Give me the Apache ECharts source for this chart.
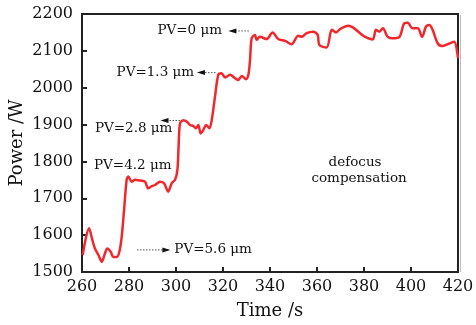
<!DOCTYPE html>
<html>
<head>
<meta charset="utf-8">
<script src="https://cdn.jsdelivr.net/npm/echarts@6/dist/echarts.min.js"></script>
<style>html,body{margin:0;padding:0;background:#fff;}#c{width:476px;height:325px;}</style>
</head>
<body>
<div id="c"></div>
<script>
// Data
var times = [260.3, 263, 264.4, 265.5, 267, 268.4, 269.8, 270.8, 272.2, 273.3, 274.8, 275.9, 276.9, 277.9, 279, 279.7, 281.1, 282.6, 284.7, 286.8, 288.2, 289.7, 291.1, 293.2, 294.9, 296.7, 298.2, 299.6, 300.6, 301.1, 301.7, 303.1, 304.6, 306, 307.4, 308.5, 309.5, 310.5, 311.6, 312.8, 314.2, 315.2, 316.6, 318, 319.4, 320.9, 323, 325.1, 326.5, 328, 329.8, 330.8, 331.5, 332.2, 333.6, 334.3, 335.7, 338.6, 341.1, 343.5, 346.4, 349.2, 352, 353.5, 355.6, 358.4, 360.3, 361, 364.1, 366.3, 368.1, 369.8, 373.3, 375.4, 378.3, 380.5, 383.7, 385.1, 386.5, 388, 390.1, 392.2, 395, 397.2, 398.6, 400.7, 402.9, 404.7, 406.4, 407.8, 409.2, 411.4, 413.5, 416.3, 418.4, 420];
var power = [1546, 1619, 1587, 1564, 1546, 1528, 1551, 1564, 1555, 1541, 1541, 1555, 1596, 1668, 1750, 1759, 1745, 1750, 1748, 1745, 1727, 1733, 1736, 1745, 1741, 1718, 1741, 1750, 1777, 1840, 1903, 1912, 1908, 1899, 1896, 1890, 1899, 1876, 1885, 1899, 1890, 1912, 1976, 2035, 2039, 2028, 2035, 2026, 2021, 2032, 2023, 2035, 2075, 2134, 2143, 2130, 2138, 2132, 2150, 2132, 2127, 2118, 2141, 2138, 2148, 2152, 2143, 2116, 2109, 2157, 2150, 2159, 2168, 2163, 2148, 2138, 2131, 2157, 2152, 2161, 2138, 2134, 2137, 2175, 2176, 2161, 2161, 2138, 2166, 2170, 2157, 2120, 2113, 2120, 2125, 2080];
var xTicks = {min: 260, max: 420, step: 20};
var yTicks = {min: 1500, max: 2200, step: 100};
var xTitle = 'Time /s';
var yTitle = 'Power /W';
// annotations in data coordinates
var labels = [
  {text: 'PV=0 μm', at: [319.6, 2154], align: 'right'},
  {text: 'PV=1.3 μm', at: [307.7, 2041], align: 'right'},
  {text: 'PV=2.8 μm', at: [265.5, 1888], align: 'left'},
  {text: 'PV=4.2 μm', at: [265.1, 1790], align: 'left'},
  {text: 'PV=5.6 μm', at: [299.3, 1560], align: 'left'},
  {text: 'defocus', at: [376.2, 1796], align: 'center'},
  {text: 'compensation', at: [377.9, 1755], align: 'center'}
];
var arrows = [
  {from: [331.0, 2154], to: [322.3, 2154]},
  {from: [316.8, 2041], to: [308.9, 2041]},
  {from: [301.7, 1911], to: [293.4, 1911]},
  {from: [283.4, 1560], to: [297.6, 1560]}
];

var pts = times.map(function (t, i) { return [t, power[i]]; });
var font = 'DejaVu Serif';
var chart = echarts.init(document.getElementById('c'), null, {renderer: 'canvas'});
chart.setOption({
  animation: false,
  backgroundColor: '#fff',
  grid: {left: 82, right: 18, top: 14, bottom: 53, containLabel: false, outerBoundsMode: 'none', show: true, borderColor: '#222', borderWidth: 2, backgroundColor: 'transparent'},
  xAxis: {
    type: 'value', min: xTicks.min, max: xTicks.max, interval: xTicks.step,
    name: xTitle, nameLocation: 'middle', nameGap: 30, nameMoveOverlap: false,
    nameTextStyle: {fontFamily: font, fontSize: 18, color: '#111'},
    axisLine: {show: true, lineStyle: {color: '#222', width: 2}},
    axisTick: {show: true, inside: true, length: 5, lineStyle: {color: '#222', width: 2}},
    axisLabel: {fontFamily: font, fontSize: 16, color: '#111', margin: 7, formatter: function (v) { return String(v); }},
    splitLine: {show: false}
  },
  yAxis: {
    type: 'value', min: yTicks.min, max: yTicks.max, interval: yTicks.step,
    name: yTitle, nameLocation: 'middle', nameGap: 56, nameRotate: 90, nameMoveOverlap: false,
    nameTextStyle: {fontFamily: font, fontSize: 18, color: '#111'},
    axisLine: {show: true, lineStyle: {color: '#222', width: 2}},
    axisTick: {show: true, inside: true, length: 5, lineStyle: {color: '#222', width: 2}},
    axisLabel: {fontFamily: font, fontSize: 16, color: '#111', margin: 9, formatter: function (v) { return String(v); }},
    splitLine: {show: false}
  },
  series: [{
    type: 'line', data: pts, showSymbol: false, smooth: 0.3,
    lineStyle: {color: '#f0282c', width: 2.5}
  }]
});

function px(p) { return chart.convertToPixel({gridIndex: 0}, p); }
var g = [];
labels.forEach(function (l) {
  var p = px(l.at);
  g.push({type: 'text', x: p[0], y: p[1], style: {text: l.text, font: '13.5px "' + font + '"', fill: '#111', textAlign: l.align, textVerticalAlign: 'middle'}, z: 10});
});
arrows.forEach(function (a) {
  var f = px(a.from), t = px(a.to);
  var dir = t[0] > f[0] ? 1 : -1;
  var hx = t[0] - dir * 8;
  g.push({type: 'line', shape: {x1: f[0], y1: f[1], x2: hx, y2: t[1]}, style: {stroke: '#555', lineWidth: 1, lineDash: [1.5, 1.5]}, z: 10});
  g.push({type: 'polygon', shape: {points: [[t[0], t[1]], [hx, t[1] - 2.5], [hx, t[1] + 2.5]]}, style: {fill: '#111'}, z: 10});
});
// faint shadow along right border
var tr = px([xTicks.max, yTicks.max]), br = px([xTicks.max, yTicks.min]);
g.push({type: 'line', shape: {x1: tr[0] + 2.5, y1: tr[1] + 1, x2: br[0] + 2.5, y2: br[1]}, style: {stroke: '#bbb', lineWidth: 1}, z: 1});
chart.setOption({graphic: g});
</script>
</body>
</html>
